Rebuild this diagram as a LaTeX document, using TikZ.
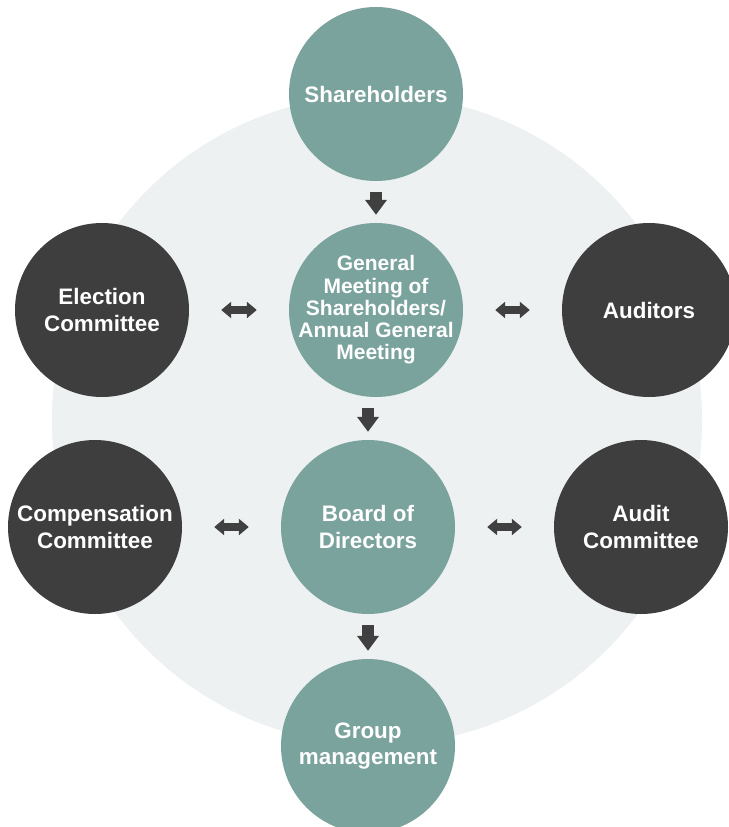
\documentclass[tikz,border=0pt]{standalone}
\usepackage{fontspec}
\setmainfont{Liberation Sans}
\usetikzlibrary{arrows.meta}
\definecolor{ringbg}{HTML}{EDF1F1}
\definecolor{teal}{HTML}{7AA39D}
\definecolor{darkbody}{HTML}{3E3E3E}
\definecolor{arrowgray}{HTML}{404040}
\tikzset{
  body/.style={circle, minimum size=174pt, inner sep=0pt, align=center, text=white, font=\bfseries\fontsize{22.4}{26.5}\selectfont},
  mainbody/.style={body, fill=teal},
  board/.style={body, fill=darkbody},
  flowdown/.style={arrowgray, line width=12pt, -{Triangle[length=15pt,width=21pt]}, shorten <=11pt, shorten >=8pt},
  flowboth/.style={arrowgray, line width=8pt, {Triangle[length=10pt,width=16pt]}-{Triangle[length=10pt,width=16pt]}, shorten <=32pt, shorten >=32pt}
}
\begin{document}
\begin{tikzpicture}[x=1pt,y=-1pt]
\useasboundingbox (0,0) rectangle (728,827);
\fill[ringbg] (377,420) circle (325);
\node[mainbody] (share) at (376,94) {Shareholders};
\node[mainbody, inner sep=-12pt, font=\bfseries\fontsize{21}{22.3}\selectfont] (gm) at (376,310) {General\\Meeting of\\Shareholders/\\Annual General\\Meeting};
\node[mainbody] (bod) at (368,527) {Board of\\Directors};
\node[mainbody] (group) at (368,746) {Group\\management};
\node[board] (elect) at (102,310) {Election\\Committee};
\node[board] (auditors) at (649,310) {Auditors};
\node[board] (comp) at (95,527) {Compensation\\Committee};
\node[board] (audit) at (641,527) {Audit\\Committee};
\draw[flowdown] (share) -- (gm);\draw[flowdown] (gm.south -| bod) -- (bod);\draw[flowdown] (bod) -- (group);
\draw[flowboth] (elect) -- (gm);\draw[flowboth] (gm) -- (auditors);\draw[flowboth] (comp) -- (bod);\draw[flowboth] (bod) -- (audit);
\end{tikzpicture}
\end{document}
